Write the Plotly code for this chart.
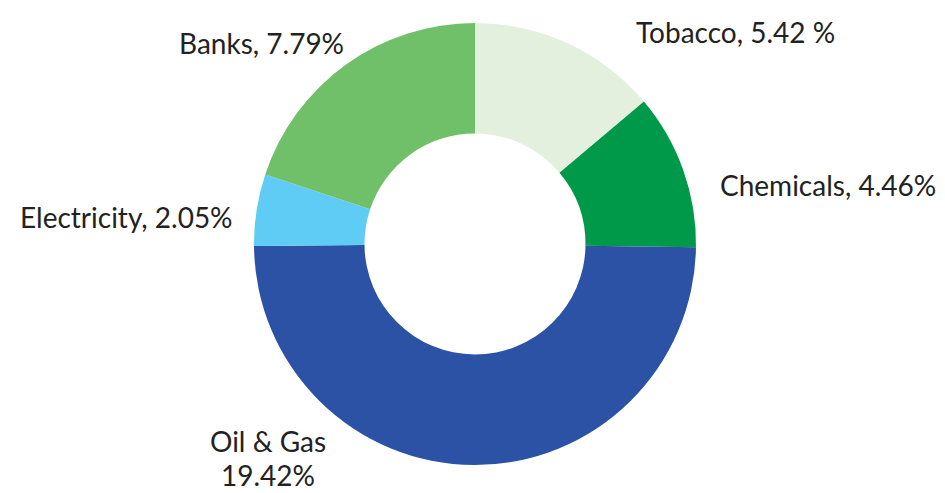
import plotly.graph_objects as go

labels = ["Tobacco", "Chemicals", "Oil & Gas", "Electricity", "Banks"]
values = [5.42, 4.46, 19.42, 2.05, 7.79]
label_texts = ["Tobacco, 5.42 %", "Chemicals, 4.46%", "Oil & Gas<br>19.42%", "Electricity, 2.05%", "Banks, 7.79%"]
colors = ["#E3F0DE", "#00994A", "#2B52A4", "#5FCCF5", "#70C06A"]

W, H = 945, 493
cx, cy, r = 475, 244, 221

fig = go.Figure(go.Pie(
    labels=labels, values=values, sort=False, direction="clockwise", rotation=0,
    hole=0.5, textinfo="none", marker=dict(colors=colors, line=dict(width=0)),
    domain=dict(x=[(cx - r) / W, (cx + r) / W], y=[(H - cy - r) / H, (H - cy + r) / H]),
    showlegend=False,
))

# label positions (pixels, center of first line), line spacing
pos = [(735, 32), (828, 185), (268, 441), (126, 217), (261, 43)]
line_gap = 34
for t, (px, py) in zip(label_texts, pos):
    for i, line in enumerate(t.split("<br>")):
        fig.add_annotation(x=px / W, y=1 - (py + i * line_gap) / H, xref="paper", yref="paper",
                           text=line, showarrow=False, xanchor="center", yanchor="middle",
                           font=dict(family="Lato", size=28, color="#222222"))

fig.update_layout(width=W, height=H, margin=dict(l=0, r=0, t=0, b=0),
                  paper_bgcolor="white", plot_bgcolor="white")
fig.write_html("out.html")
